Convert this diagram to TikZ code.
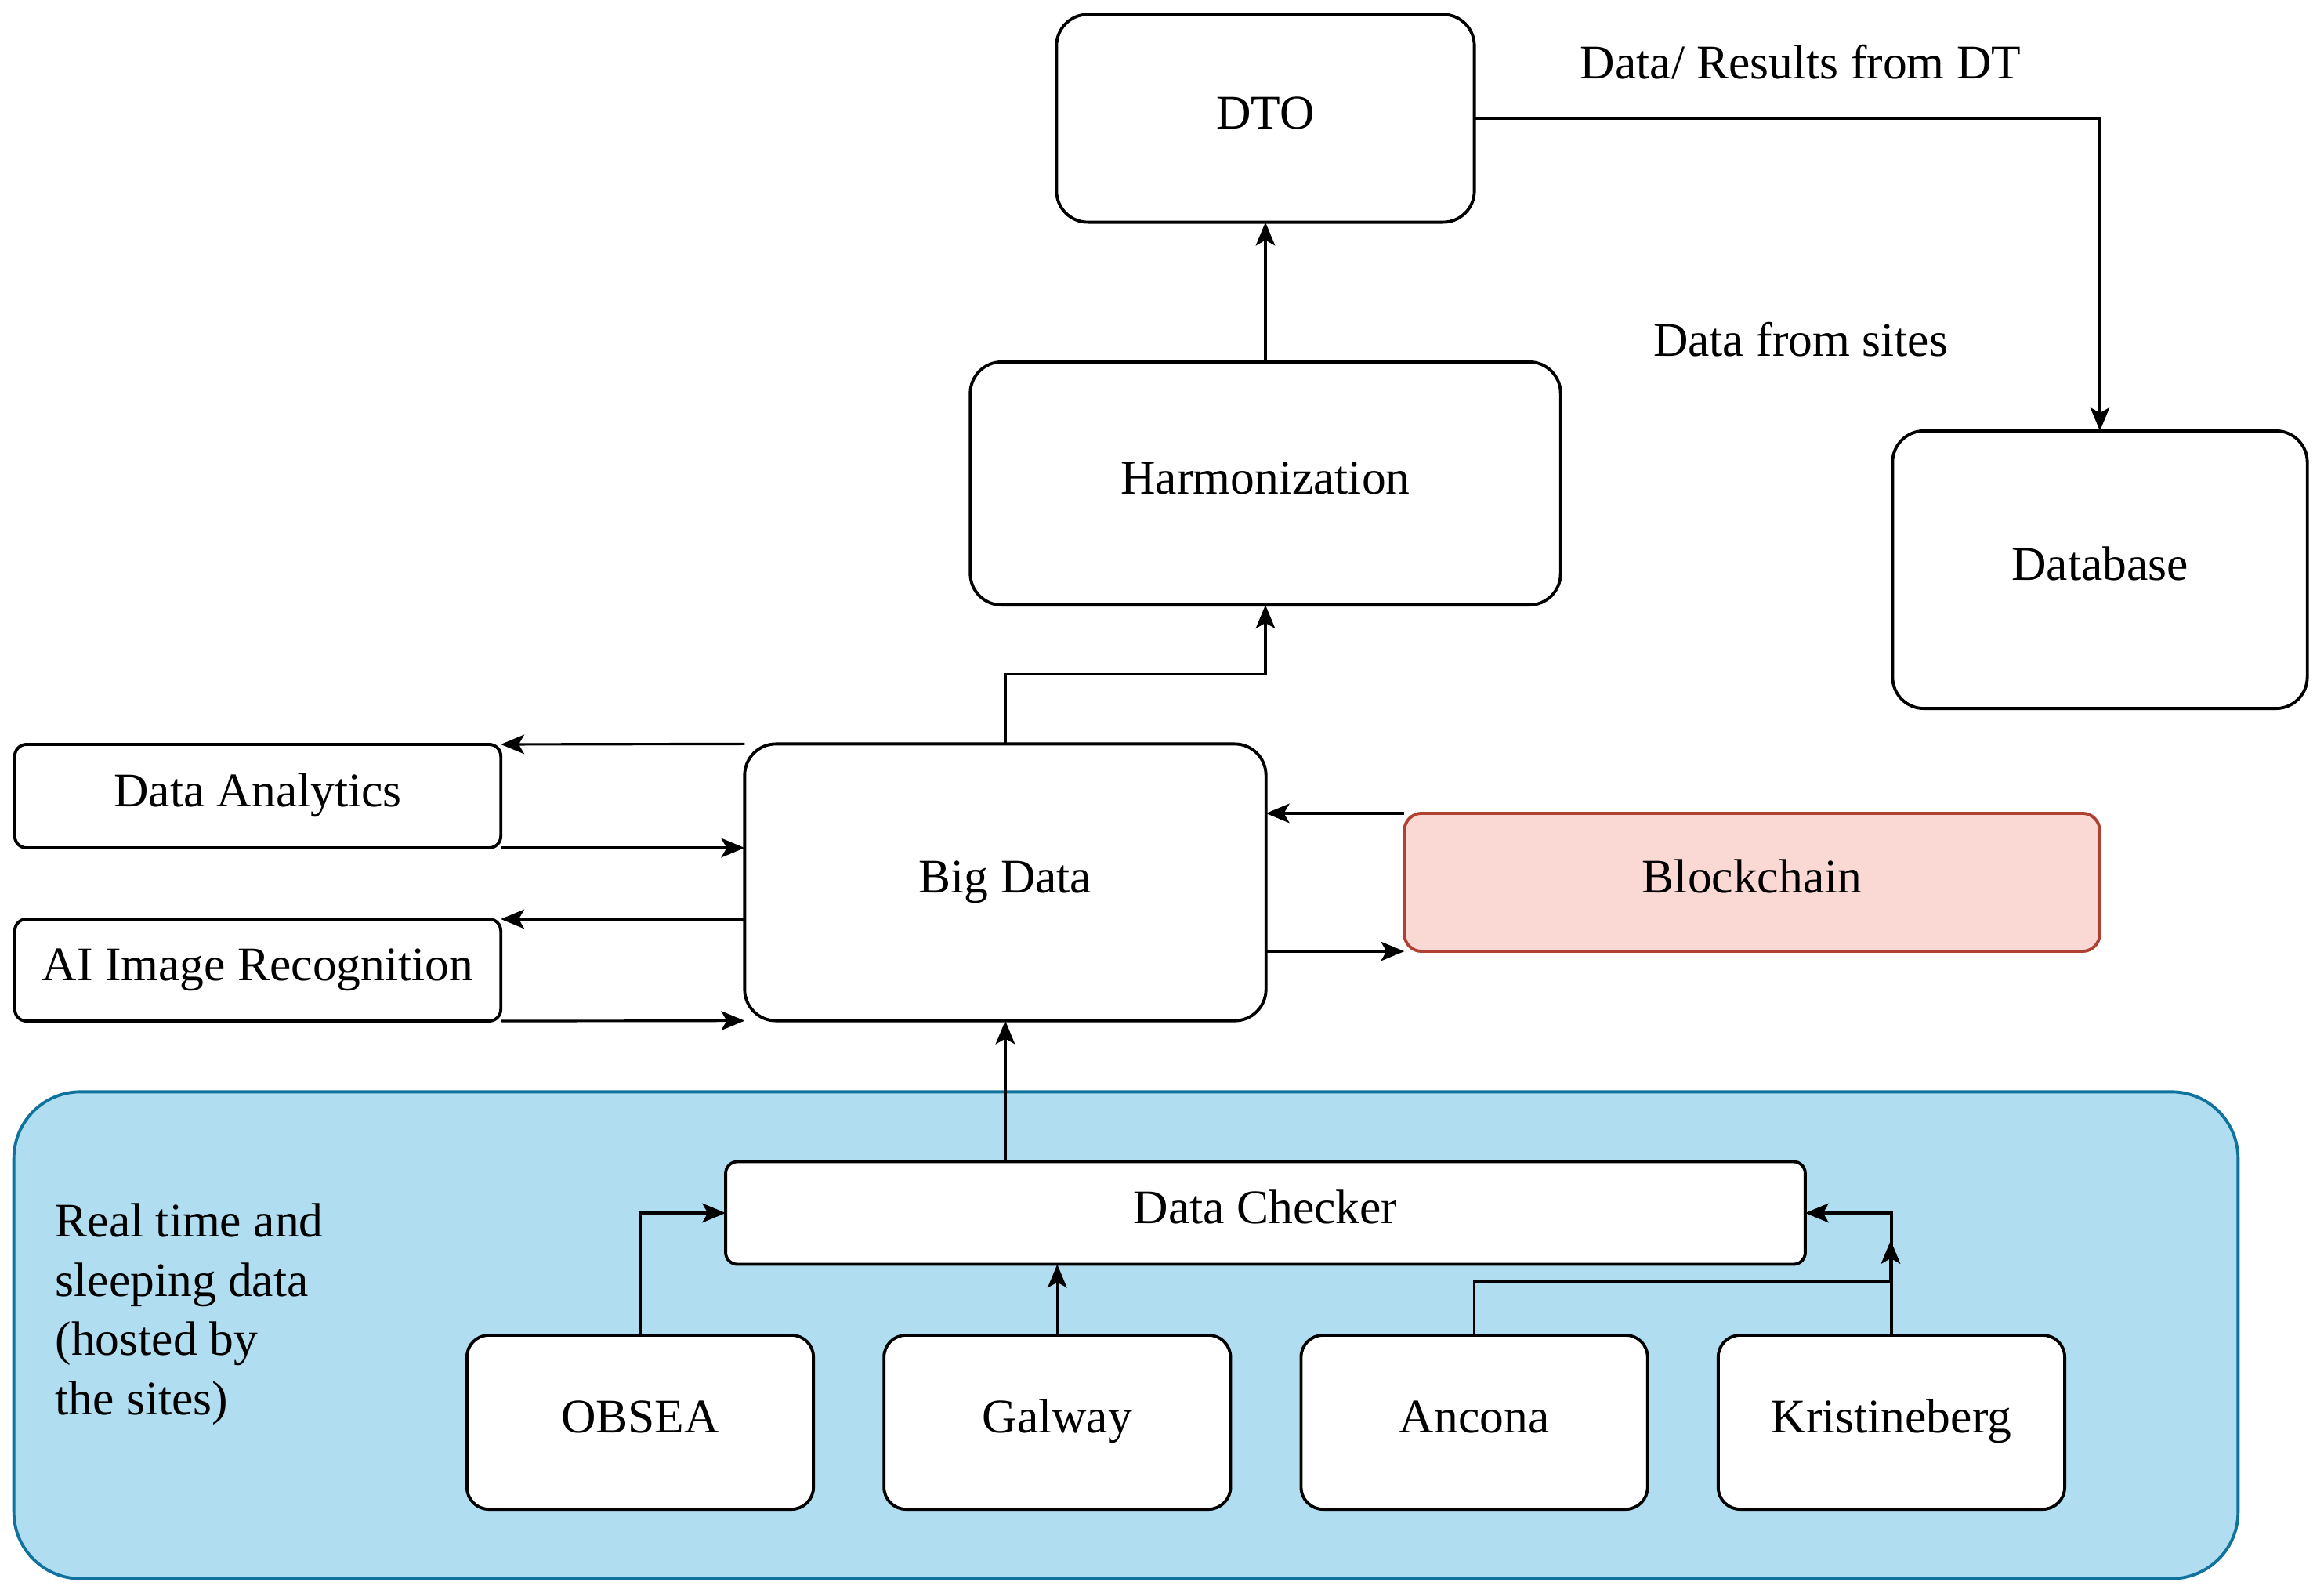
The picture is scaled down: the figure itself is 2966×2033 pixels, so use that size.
\documentclass[tikz,border=0pt]{standalone}
\usepackage{fontspec}
\setmainfont{Liberation Serif}
\usetikzlibrary{shapes, arrows.meta, positioning}

\definecolor{sitefill}{HTML}{B1DDF0}
\definecolor{siteline}{HTML}{10739E}
\definecolor{chainfill}{HTML}{FAD9D5}
\definecolor{chainline}{HTML}{AE4132}

\begin{document}
\begin{tikzpicture}[x=0.01cm, y=-0.01cm, >={Stealth[length=8.5pt,width=7pt,inset=2pt]}, font=\fontsize{17.5}{21.5}\selectfont]
        % Define block styles
        \tikzstyle{block} = [draw, line width=1.1pt, fill=white, rectangle, rounded corners=0.4cm, text centered, text height=0.88em, text depth=0.14em, inner sep=0pt, outer sep=0pt]
        \tikzstyle{thinblock} = [block, rounded corners=0.15cm]
        \tikzstyle{site} = [block, rounded corners=0.28cm, minimum width=4.42cm, minimum height=2.22cm]
        \tikzstyle{plaintext} = [inner sep=0pt]
        \tikzstyle{link} = [->, line width=0.9pt]

        \useasboundingbox (0,0) rectangle (2966,2033);

        % Area of the sites
        \node [draw=siteline, line width=1.1pt, fill=sitefill, rectangle, rounded corners=0.85cm, minimum width=28.37cm, minimum height=6.21cm, outer sep=0pt] (sitearea) at (1437,1704) {};

        % Nodes
        \node [block, minimum width=5.33cm, minimum height=2.65cm] (dto) at (1615,151) {DTO};
        \node [block, minimum width=7.53cm, minimum height=3.1cm] (harm) at (1615,617) {Harmonization};
        \node [block, minimum width=5.29cm, minimum height=3.54cm] (db) at (2680,727) {Database};
        \node [block, minimum width=6.65cm, minimum height=3.53cm] (big) at (1283,1126) {Big Data};
        \node [thinblock, minimum width=6.2cm, minimum height=1.32cm] (analytics) at (329,1016) {Data Analytics};
        \node [thinblock, minimum width=6.2cm, minimum height=1.3cm] (airec) at (329,1238) {AI Image Recognition};
        \node [block, rounded corners=0.22cm, draw=chainline, fill=chainfill, minimum width=8.87cm, minimum height=1.76cm] (chain) at (2236,1126) {Blockchain};
        \node [thinblock, minimum width=13.77cm, minimum height=1.31cm] (checker) at (1615,1548) {Data Checker};
        \node [site] (obsea) at (817,1815) {OBSEA};
        \node [site, right=0.9cm of obsea] (galway) {Galway};
        \node [site, right=0.9cm of galway] (ancona) {Ancona};
        \node [site, right=0.9cm of ancona] (kris) {Kristineberg};
        \coordinate (join) at (2413,1636);
        \coordinate (joinend) at (2413,1583);

        % Labels
        \node [plaintext] (results) at (2298,79) {Data/ Results from DT};
        \node [plaintext] (fromsites) at (2298,433) {Data from sites};
        \node [plaintext, anchor=west, align=left] (hosted) at (70,1677) {Real time and\\ sleeping data\\ (hosted by\\ the sites)};

        % Edges
        \draw [link] (harm) -- (dto);
        \draw [link] (dto.east) -| (db.north);
        \draw [link] (big.north) -- ++(0,-89) -| (harm.south);
        \draw [link] (big.north west) -- (analytics.north east);
        \draw [link] (analytics.south east) -- (analytics.south east -| big.west);
        \draw [link] (airec.north east -| big.west) -- (airec.north east);
        \draw [link] (airec.south east) -- (big.south west);
        \draw [link] (chain.north west) -- (chain.north west -| big.east);
        \draw [link] (chain.south west -| big.east) -- (chain.south west);
        \draw [link] (checker.north -| big.south) -- (big.south);
        \draw [link] (obsea.north) |- (checker.west);
        \draw [link] (galway.north) -- (galway.north |- checker.south);
        \draw [link] (kris.north) |- (checker.east);
        \draw [link] (ancona.north) |- (join) -- (joinend);
\end{tikzpicture}
\end{document}
